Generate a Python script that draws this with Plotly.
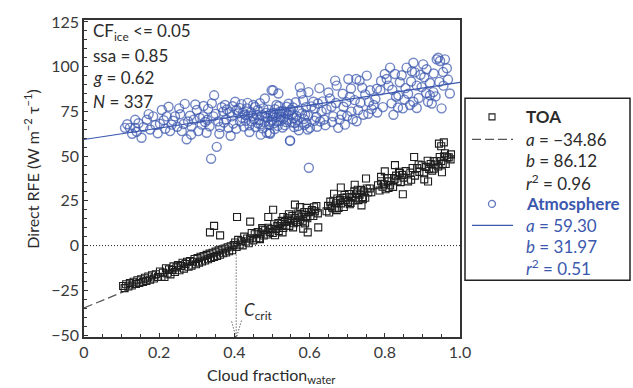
import plotly.graph_objects as go

# ---------------- data ----------------
toa_fit = {"a": -34.86, "b": 86.12, "r2": 0.96}
atm_fit = {"a": 59.30, "b": 31.97, "r2": 0.51}
n_points = 337
cf_ice_max = 0.05
ssa = 0.85
g_asym = 0.62

toa_x = [0.104,0.108,0.112,0.118,0.122,0.127,0.132,0.138,0.142,0.147,0.152,0.157,0.162,0.166,0.171,0.176,0.181,0.186,0.191,0.197,
         0.202,0.206,0.21,0.214,0.218,0.222,0.226,0.23,0.234,0.238,0.242,0.246,0.25,0.254,0.258,0.262,0.266,0.27,0.274,0.278,
         0.282,0.286,0.29,0.294,0.298,0.302,0.306,0.31,0.314,0.318,0.322,0.326,0.33,0.334,0.338,0.342,0.346,0.35,0.354,0.358,
         0.362,0.366,0.37,0.374,0.378,0.382,0.386,0.39,0.394,0.398,
         0.402,0.406,0.41,0.414,0.418,0.422,0.426,0.43,0.434,0.438,0.442,0.446,0.45,0.454,0.458,0.462,0.466,0.47,0.474,0.478,
         0.482,0.486,0.49,0.494,0.498,0.502,0.506,0.51,0.514,0.518,0.522,0.526,0.53,0.534,0.538,0.542,0.546,0.55,0.554,0.558,
         0.562,0.566,0.57,0.574,0.578,0.582,0.586,0.59,0.594,0.598,0.602,0.606,0.61,0.614,0.618,0.622,
         0.645,0.649,0.652,0.656,0.66,0.663,0.667,0.67,0.674,0.677,0.681,0.684,0.688,0.691,0.695,0.698,0.702,0.705,0.709,0.712,
         0.716,0.719,0.723,0.726,0.73,0.733,0.737,0.74,0.744,0.748,0.752,0.756,0.76,0.764,
         0.782,0.786,0.79,0.794,0.798,0.802,0.806,0.81,0.814,0.818,0.822,0.826,0.83,0.834,0.838,0.842,0.846,0.85,0.856,0.862,
         0.868,0.874,0.88,0.886,0.892,0.898,0.904,0.91,0.914,0.918,0.922,0.926,0.93,0.934,0.938,0.942,0.946,0.95,0.954,0.958,
         0.962,0.966,0.97,0.975,
         0.335,0.346,0.362,0.407,0.442,0.49,0.503,0.561,0.575,0.592,0.595,0.623,0.545,0.53,0.583,
         0.665,0.683,0.75,0.72,0.738,0.848,0.915,0.952,0.976,0.944,0.957,0.95,0.878,0.827,0.8,0.905,
         0.468,0.476,0.508,0.517,0.528,0.541,0.556,0.568,0.588,0.612,0.655,0.672,0.693,0.707,0.728,0.742,0.79,0.81,0.84,0.87,
         0.89,0.93,0.96]
toa_y = [-22.6,-23.8,-21.6,-22.9,-21.0,-22.3,-20.2,-21.5,-19.4,-20.9,-18.8,-20.3,-18.0,-19.7,-17.3,-19.0,-16.6,-18.4,-16.0,-17.6,
         -14.5,-17.5,-15.1,-17.6,-12.7,-15.6,-13.3,-16.1,-13.6,-11.6,-14.8,-12.2,-10.9,-13.8,-11.4,-9.6,-12.9,-10.3,-9.0,-11.8,
         -8.6,-11.2,-9.0,-7.5,-10.4,-7.0,-9.5,-6.2,-8.9,-5.8,-8.3,-5.2,-7.6,-4.5,-6.9,-4.0,-6.4,-3.4,-5.8,-2.7,
         -5.1,-2.2,-4.3,-1.6,-3.9,-0.9,-3.2,-0.4,-2.6,0.3,
         1.7,-0.7,3.2,0.6,2.4,0.1,5.0,2.3,4.0,1.3,4.0,7.0,2.9,6.3,4.1,7.5,4.1,6.7,9.8,5.6,
         8.6,6.2,10.0,7.5,9.3,7.0,11.9,9.2,10.9,8.1,10.9,13.8,9.8,13.2,11.0,14.4,11.0,13.6,16.6,12.5,
         15.4,13.1,16.9,14.4,16.2,13.9,18.8,16.0,15.3,18.7,16.5,19.9,16.5,19.1,22.1,18.0,
         19.2,22.2,18.5,22.1,21.2,24.8,20.7,23.7,26.3,21.1,25.4,23.6,26.6,21.6,25.3,27.0,24.4,28.8,23.8,27.1,
         25.2,30.4,26.7,29.1,25.4,28.5,31.0,27.1,30.2,26.7,31.9,29.7,31.9,29.8,
         33.7,30.8,36.0,32.9,34.3,31.5,37.8,35.9,33.7,37.8,32.8,37.1,39.1,36.0,41.3,35.5,39.5,38.0,41.6,35.9,
         40.8,43.4,39.1,43.3,41.2,44.9,40.4,44.0,47.4,42.9,45.6,41.9,47.2,45.2,47.3,44.2,49.5,47.2,45.7,49.9,
         45.6,49.3,49.3,48.2,
         7.4,11.0,5.7,16.0,13.4,16.0,20.0,22.9,21.5,21.1,7.4,10.2,17.5,16.0,9.5,
         29.0,32.5,37.5,34.0,22.5,28.7,35.8,41.0,51.0,57.0,57.7,55.5,49.5,45.0,41.5,37.0,
         3.6,8.9,5.8,12.6,7.4,15.3,10.2,17.9,12.4,21.4,24.6,19.8,28.3,23.1,31.2,25.9,38.4,32.2,40.6,36.8,
         45.3,43.0,51.6]

atm_points = [
    (0.109,65.8),(0.122,65.8),(0.136,65.8),(0.136,70.3),(0.140,63.6),(0.153,60.3),(0.167,70.3),(0.176,64.9),(0.184,72.2),
    (0.207,75.8),(0.202,68.1),(0.22,72.2),(0.229,64.0),(0.233,67.6),(0.242,72.2),(0.253,76.7),(0.26,64.0),(0.273,59.4),
    (0.277,69.4),(0.30,75.8),(0.304,64.0),(0.313,67.6),(0.317,72.2),(0.326,63.1),(0.346,84.0),(0.353,55.2),(0.338,48.5),
    (0.344,72.2),(0.357,69.4),(0.37,74.9),(0.375,78.6),(0.384,65.8),(0.393,72.2),(0.402,80.4),(0.406,75.8),(0.415,69.4),
    (0.428,73.1),(0.433,76.7),(0.446,69.4),(0.45,78.6),(0.459,73.1),(0.477,76.7),(0.481,82.2),(0.486,63.1),(0.494,63.1),
    (0.499,86.8),(0.503,74.0),
    (0.495,62.5),(0.503,86.8),(0.517,85.0),(0.512,78.6),(0.521,74.9),(0.539,77.6),(0.543,73.1),(0.546,74.9),(0.55,75.8),
    (0.548,58.5),(0.557,71.3),(0.561,68.5),(0.574,88.6),(0.578,85.0),(0.583,81.3),(0.588,73.1),(0.592,68.5),(0.597,85.8),
    (0.601,65.8),(0.61,80.4),(0.614,76.7),(0.626,88.0),(0.628,69.4),(0.632,74.9),(0.654,82.2),(0.658,77.6),(0.663,72.2),
    (0.668,92.2),(0.672,89.4),(0.676,65.8),(0.685,73.1),(0.69,77.6),(0.694,67.6),(0.703,93.1),(0.707,83.1),(0.711,74.9),
    (0.72,81.3),(0.724,93.1),(0.729,75.8),(0.733,92.2),(0.743,73.1),(0.752,95.0),(0.756,73.7),(0.761,86.8),(0.77,78.6),
    (0.779,87.7),(0.788,86.8),(0.80,95.9),(0.805,93.1),(0.814,99.5),(0.818,79.5),(0.827,95.9),(0.823,73.1),(0.836,84.0),
    (0.84,91.3),(0.848,76.7),(0.858,99.5),(0.862,84.9),(0.867,78.6),(0.876,102.2),(0.88,96.8),(0.876,80.4),(0.885,89.4),
    (0.898,88.6),(0.902,101.3),(0.911,98.6),(0.915,80.4),(0.92,84.0),(0.929,85.8),(0.938,104.1),(0.942,105.0),(0.947,103.2),
    (0.951,76.7),(0.956,89.4),(0.96,104.1),(0.973,85.0),(0.598,43.5),(0.548,58.8),
    (0.42,71.5),(0.425,66.5),(0.43,69.8),(0.437,72.8),(0.44,67.2),(0.444,74.5),(0.452,70.6),(0.456,66.3),(0.462,75.8),
    (0.466,70.2),(0.47,67.8),(0.473,72.9),(0.48,69.1),(0.484,74.2),(0.488,71.4),(0.492,67.5),(0.497,73.8),(0.5,70.2),
    (0.505,68.4),(0.508,76.2),(0.511,71.8),(0.515,66.9),(0.519,73.5),(0.523,69.7),(0.526,75.1),(0.53,71.2),(0.534,67.3),
    (0.537,73.9),(0.541,70.4),(0.552,68.9),(0.556,77.2),(0.565,72.4),(0.569,66.8),(0.572,75.6),(0.585,70.8),(0.596,72.6),
    (0.605,77.8),(0.618,71.9),(0.622,79.4),(0.638,70.5),(0.645,76.2),(0.65,85.6),(0.68,70.4),(0.698,80.2),(0.715,70.6),
    (0.735,79.8),(0.748,84.5),(0.765,76.3),(0.775,81.9),(0.795,77.4),(0.81,89.4),(0.83,83.2),(0.845,95.2),(0.852,81.6),
    (0.87,91.7),(0.89,82.5),(0.905,94.1),(0.925,79.4),(0.93,96.2),(0.945,91.5),(0.965,99.1),
    (0.115,67.8),(0.128,62.5),(0.145,68.4),(0.158,66.2),(0.172,73.5),(0.19,67.4),(0.196,62.8),(0.212,70.1),(0.216,65.3),
    (0.225,77.6),(0.237,69.8),(0.248,66.4),(0.256,73.4),(0.265,67.9),(0.268,79.2),(0.282,72.6),(0.286,66.5),(0.292,70.4),
    (0.296,78.9),(0.308,71.3),(0.322,69.1),(0.33,76.4),(0.334,66.7),(0.34,79.5),(0.35,73.6),(0.362,66.2),(0.366,77.3),
    (0.378,70.5),(0.388,74.6),(0.397,68.2),(0.41,73.9),(0.419,79.1),(0.285,62.1),(0.36,62.5),(0.44,63.5),(0.47,62.0),
    (0.39,61.4),
    (0.455,77.5),(0.463,68.4),(0.468,79.6),(0.475,65.5),(0.483,71.9),(0.49,76.0),(0.496,69.2),(0.502,72.3),(0.507,65.2),
    (0.513,69.4),(0.518,77.9),(0.524,72.0),(0.528,66.0),(0.533,74.8),(0.538,69.0),(0.544,79.3),(0.553,73.2),(0.559,66.2),
    (0.563,80.1),(0.567,70.0),(0.571,64.5),(0.58,73.9),(0.586,67.4),(0.59,77.4),(0.595,64.9),(0.612,69.8),(0.62,66.4),
    (0.635,80.6),(0.642,67.3),(0.66,69.1),(0.67,79.7),(0.688,84.9),(0.7,72.4),(0.71,87.8),(0.725,69.5),(0.74,88.2),
    (0.758,80.2),(0.78,74.4),(0.79,92.0),(0.82,87.1),(0.835,77.2),(0.855,88.0),(0.872,97.4),(0.885,76.9),(0.895,95.5),
    (0.91,85.3),(0.92,90.9),(0.935,83.4),(0.955,97.0),(0.968,92.8),(0.318,78.0),(0.328,70.3),(0.372,68.8),(0.38,76.1),
    (0.395,77.9),(0.405,65.3),(0.413,77.0),(0.423,74.3),(0.435,79.8),(0.448,72.4)]
atm_x = [p[0] for p in atm_points]
atm_y = [p[1] for p in atm_points]

x_tickvals = [0, 0.2, 0.4, 0.6, 0.8, 1.0]
x_ticktext = ["0", "0.2", "0.4", "0.6", "0.8", "1.0"]
y_tickvals = [-50, -25, 0, 25, 50, 75, 100, 125]
y_ticktext = ["\u221250", "\u221225", "0", "25", "50", "75", "100", "125"]

# ---------------- styling / layout ----------------
W, H = 633, 388
L, R, T, B = 84, 173, 13, 51
PW, PH = W - L - R, H - T - B
FONT = "Lato"
DARK = "#2b2b2b"
BLUE = "#3b58ae"


def pxx(xp):
    return (xp - L) / PW


def pxy(yp):
    return (H - B - yp) / PH


fig = go.Figure()

# fit lines
tx = [0.0, 0.985]
fig.add_trace(go.Scatter(x=tx, y=[toa_fit["a"] + toa_fit["b"] * v for v in tx], mode="lines",
                         line=dict(color="#555555", width=1.2, dash="9px,4px"), hoverinfo="skip"))
ax_ = [0.0, 1.0]
fig.add_trace(go.Scatter(x=ax_, y=[atm_fit["a"] + atm_fit["b"] * v for v in ax_], mode="lines",
                         line=dict(color=BLUE, width=1.2), hoverinfo="skip"))

fig.add_trace(go.Scatter(x=atm_x, y=atm_y, mode="markers",
                         marker=dict(symbol="circle-open", size=9, color="rgba(59,88,174,0.72)",
                                     line=dict(width=1.4, color="rgba(59,88,174,0.72)"))))
fig.add_trace(go.Scatter(x=toa_x, y=toa_y, mode="markers",
                         marker=dict(symbol="square-open", size=7, color="#1e1e1e",
                                     line=dict(width=1.1, color="#1e1e1e"))))

c_crit = -toa_fit["a"] / toa_fit["b"]
yr = [-51.1, 126.1]
DOT = "1px,2px"

shapes = [
    dict(type="line", xref="x", yref="y", x0=0, x1=1, y0=0, y1=0,
         line=dict(color="#222", width=1, dash=DOT)),
    dict(type="line", xref="x", yref="y", x0=c_crit, x1=c_crit, y0=0, y1=yr[0],
         line=dict(color="#222", width=1, dash=DOT)),
    dict(type="line", xref="x", yref="y", x0=c_crit - 0.012, x1=c_crit - 0.001, y0=-42.5, y1=yr[0],
         line=dict(color="#222", width=1, dash=DOT)),
    dict(type="line", xref="x", yref="y", x0=c_crit + 0.014, x1=c_crit + 0.001, y0=-42.0, y1=yr[0],
         line=dict(color="#222", width=1, dash=DOT)),
    # legend box
    dict(type="rect", xref="paper", yref="paper", x0=pxx(465), x1=pxx(630), y0=pxy(279), y1=pxy(93),
         line=dict(color="#222", width=1.5), fillcolor="white"),
    dict(type="line", xref="paper", yref="paper", x0=pxx(472), x1=pxx(513), y0=pxy(135), y1=pxy(135),
         line=dict(color="#555555", width=1.2, dash="9px,4px")),
    dict(type="line", xref="paper", yref="paper", x0=pxx(472), x1=pxx(513), y0=pxy(223), y1=pxy(223),
         line=dict(color=BLUE, width=1.2)),
    dict(type="rect", xref="paper", yref="paper", xsizemode="pixel", ysizemode="pixel",
         xanchor=pxx(492), yanchor=pxy(112), x0=-3, x1=3, y0=-3, y1=3,
         line=dict(color="#1e1e1e", width=1.1)),
    dict(type="circle", xref="paper", yref="paper", xsizemode="pixel", ysizemode="pixel",
         xanchor=pxx(492), yanchor=pxy(201), x0=-3.5, x1=3.5, y0=-3.5, y1=3.5,
         line=dict(color="rgba(59,88,174,0.8)", width=1.3)),
]

ann = []


def txt(xp, yp, s, color=DARK, size=17, xanchor="left"):
    ann.append(dict(xref="paper", yref="paper", x=pxx(xp), y=pxy(yp), text=s, showarrow=False,
                    xanchor=xanchor, yanchor="middle", font=dict(family=FONT, size=size, color=color)))


# top-left text
txt(91, 25, f"CF<sub>ice</sub> <= {cf_ice_max:.2f}", size=17)
txt(91, 49, f"ssa = {ssa:.2f}", size=17)
txt(91, 72, f"<i>g</i> = {g_asym:.2f}", size=17)
txt(91, 96, f"<i>N</i> = {n_points}", size=17)


def num(v):
    return f"{v:.2f}".replace("-", "\u2212")


# legend text
txt(524, 112, "<b>TOA</b>", DARK, 17)
txt(524, 135, f"<i>a</i> = {num(toa_fit['a'])}", DARK, 17)
txt(524, 157, f"<i>b</i> = {num(toa_fit['b'])}", DARK, 17)
txt(524, 179, f"<i>r</i><sup>2</sup> = {num(toa_fit['r2'])}", DARK, 17)
txt(524, 201, "<b>Atmosphere</b>", BLUE, 17)
txt(524, 223, f"<i>a</i> = {num(atm_fit['a'])}", BLUE, 17)
txt(524, 245, f"<i>b</i> = {num(atm_fit['b'])}", BLUE, 17)
txt(524, 266, f"<i>r</i><sup>2</sup> = {num(atm_fit['r2'])}", BLUE, 17)

# axis titles
ann.append(dict(xref="paper", yref="paper", x=pxx(32), y=pxy(166), textangle=-90, showarrow=False,
                text="Direct RFE (W m<sup>\u22122</sup> \u03c4<sup>\u22121</sup>)", xanchor="center", yanchor="middle",
                font=dict(family=FONT, size=16, color=DARK)))
ann.append(dict(xref="paper", yref="paper", x=pxx(271), y=pxy(376), showarrow=False,
                text="Cloud fraction<sub>water</sub>", xanchor="center", yanchor="middle",
                font=dict(family=FONT, size=16, color=DARK)))
# C_crit label
ann.append(dict(xref="x", yref="y", x=c_crit + 0.015, y=-36.5, showarrow=False, xanchor="left",
                text="<i>C</i><sub>crit</sub>", font=dict(family=FONT, size=17, color=DARK)))

axis_common = dict(showline=True, linecolor="#333", linewidth=1.5, mirror=True, showgrid=False,
                   zeroline=False, ticks="inside", ticklen=4, tickwidth=1, tickcolor="#333",
                   tickfont=dict(family=FONT, size=16, color="#3a3a3a"))

fig.update_layout(
    width=W, height=H, margin=dict(l=L, r=R, t=T, b=B),
    paper_bgcolor="white", plot_bgcolor="white", showlegend=False,
    xaxis=dict(range=[0, 1], tickvals=x_tickvals, ticktext=x_ticktext,
               minor=dict(dtick=0.05, ticks="inside", ticklen=3, tickcolor="#333"), **axis_common),
    yaxis=dict(range=yr, tickvals=y_tickvals, ticktext=y_ticktext,
               minor=dict(dtick=5, ticks="inside", ticklen=3, tickcolor="#333"), **axis_common),
    shapes=shapes, annotations=ann,
)

fig.write_html("out.html")
